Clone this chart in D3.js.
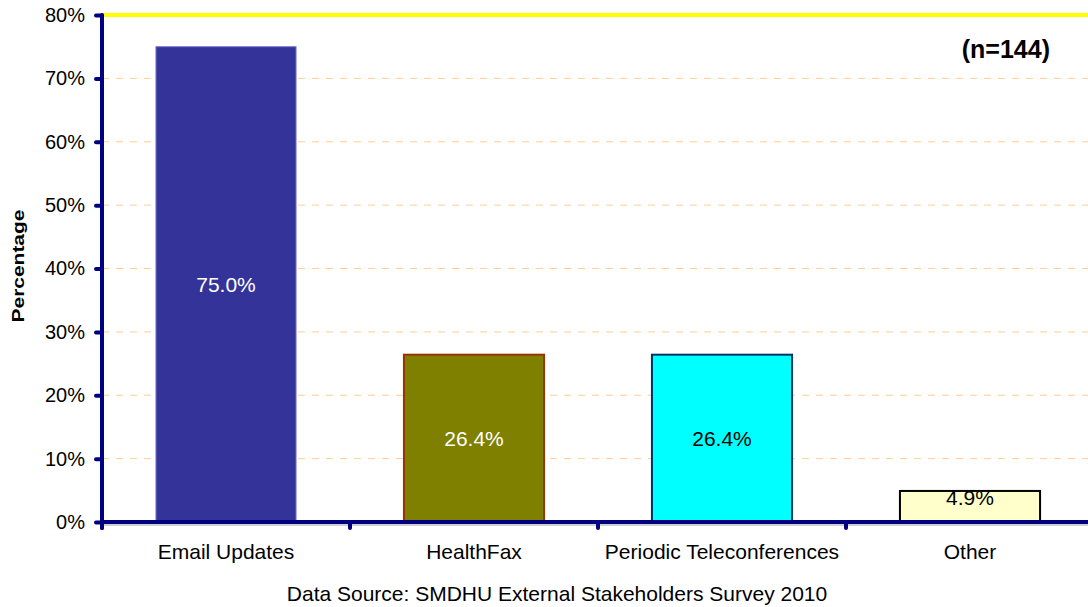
<!DOCTYPE html>
<html>
<head>
<meta charset="utf-8">
<script src="https://cdn.jsdelivr.net/npm/d3@7/dist/d3.min.js"></script>
<style>
  html, body { margin: 0; padding: 0; background: #fff; }
  svg { display: block; font-family: "Liberation Sans", Arial, sans-serif; }
</style>
</head>
<body>
<svg id="chart" width="1088" height="607"></svg>
<script>
// Survey results: preferred communication methods
const categories = ["Email Updates", "HealthFax", "Periodic Teleconferences", "Other"];
const values = [75.0, 26.4, 26.4, 4.9];
const fills = ["#333399", "#808000", "#00ffff", "#ffffcc"];
const strokes = ["#7b7bd0", "#993300", "#003366", "#000000"];
const strokeWidths = [1, 2, 2, 2];
const labelColors = ["#ffffff", "#ffffff", "#000000", "#000000"];
const yTicks = [0, 10, 20, 30, 40, 50, 60, 70, 80];

const svg = d3.select("#chart");
const plotLeft = 102, plotRight = 1094, plotTop = 15, plotBottom = 522;

const x = d3.scaleBand().domain(categories).range([plotLeft, plotRight]).paddingInner(0.435).paddingOuter(0.2175);
const y = d3.scaleLinear().domain([0, 80]).range([plotBottom, plotTop]);
const navy = "#000080";

// dashed gridlines
svg.append("g").selectAll("line").data(yTicks.filter(d => d > 0 && d < 80)).join("line")
  .attr("x1", plotLeft).attr("x2", 1088)
  .attr("y1", d => y(d)).attr("y2", d => y(d))
  .attr("stroke", "#ffcc99").attr("stroke-width", 1).attr("stroke-dasharray", "7,7");

// top boundary at the 80% mark
svg.append("line").attr("x1", plotLeft).attr("x2", 1088).attr("y1", y(80)).attr("y2", y(80))
  .attr("stroke", "#ffff00").attr("stroke-width", 4);

// bars
svg.append("g").selectAll("rect").data(values).join("rect")
  .attr("x", (d, i) => x(categories[i]))
  .attr("width", x.bandwidth())
  .attr("y", d => y(d))
  .attr("height", d => y(0) - y(d))
  .attr("fill", (d, i) => fills[i])
  .attr("stroke", (d, i) => strokes[i])
  .attr("stroke-width", (d, i) => strokeWidths[i]);

// value labels
svg.append("g").selectAll("text").data(values).join("text")
  .attr("x", (d, i) => x(categories[i]) + x.bandwidth() / 2)
  .attr("y", d => d < 10 ? y(d) + 14 : (y(d) + y(0)) / 2 + 8)
  .attr("text-anchor", "middle")
  .attr("font-size", 21)
  .attr("fill", (d, i) => labelColors[i])
  .text(d => d.toFixed(1) + "%");

// y axis
const yAxis = svg.append("g").attr("transform", `translate(${plotLeft},0)`)
  .call(d3.axisLeft(y).tickValues(yTicks).tickFormat(d => d + "%").tickSize(6).tickPadding(11));
yAxis.select(".domain").attr("stroke", navy).attr("stroke-width", 4).attr("d", `M0,${plotTop}V${plotBottom + 6}`).attr("stroke-linecap", "round");
yAxis.selectAll(".tick line").attr("stroke", navy).attr("stroke-width", 4).attr("stroke-linecap", "round");
yAxis.selectAll(".tick text").attr("font-size", 20).attr("fill", "#000").attr("font-family", "Liberation Sans, Arial, sans-serif");

// x axis
const xAxis = svg.append("g").attr("transform", `translate(0,${plotBottom})`);
xAxis.append("line").attr("x1", plotLeft).attr("x2", 1088).attr("y1", 3).attr("y2", 3)
  .attr("stroke", "#a0a0a0").attr("stroke-width", 1);
xAxis.append("line").attr("x1", plotLeft).attr("x2", 1088).attr("y1", 0).attr("y2", 0)
  .attr("stroke", navy).attr("stroke-width", 4);
const boundaries = categories.map(c => x(c) - x.step() * x.paddingInner() / 2);
xAxis.selectAll("line.tick").data(boundaries).join("line").attr("class", "tick")
  .attr("x1", d => d).attr("x2", d => d).attr("y1", 0).attr("y2", 6)
  .attr("stroke", navy).attr("stroke-width", 4).attr("stroke-linecap", "round");
xAxis.selectAll("text").data(categories).join("text")
  .attr("x", d => x(d) + x.bandwidth() / 2).attr("y", 37)
  .attr("text-anchor", "middle").attr("font-size", 21).attr("fill", "#000")
  .text(d => d);

// axis title
svg.append("text").attr("transform", "translate(24,266) rotate(-90)")
  .attr("text-anchor", "middle").attr("font-size", 17).attr("font-weight", "bold")
  .attr("textLength", 113).attr("lengthAdjust", "spacingAndGlyphs").text("Percentage");

// sample size note
svg.append("text").attr("x", 1050).attr("y", 58).attr("text-anchor", "end")
  .attr("font-size", 25).attr("font-weight", "bold").text("(n=144)");

// source
svg.append("text").attr("x", 557).attr("y", 601).attr("text-anchor", "middle")
  .attr("font-size", 21).text("Data Source: SMDHU External Stakeholders Survey 2010");
</script>
</body>
</html>
